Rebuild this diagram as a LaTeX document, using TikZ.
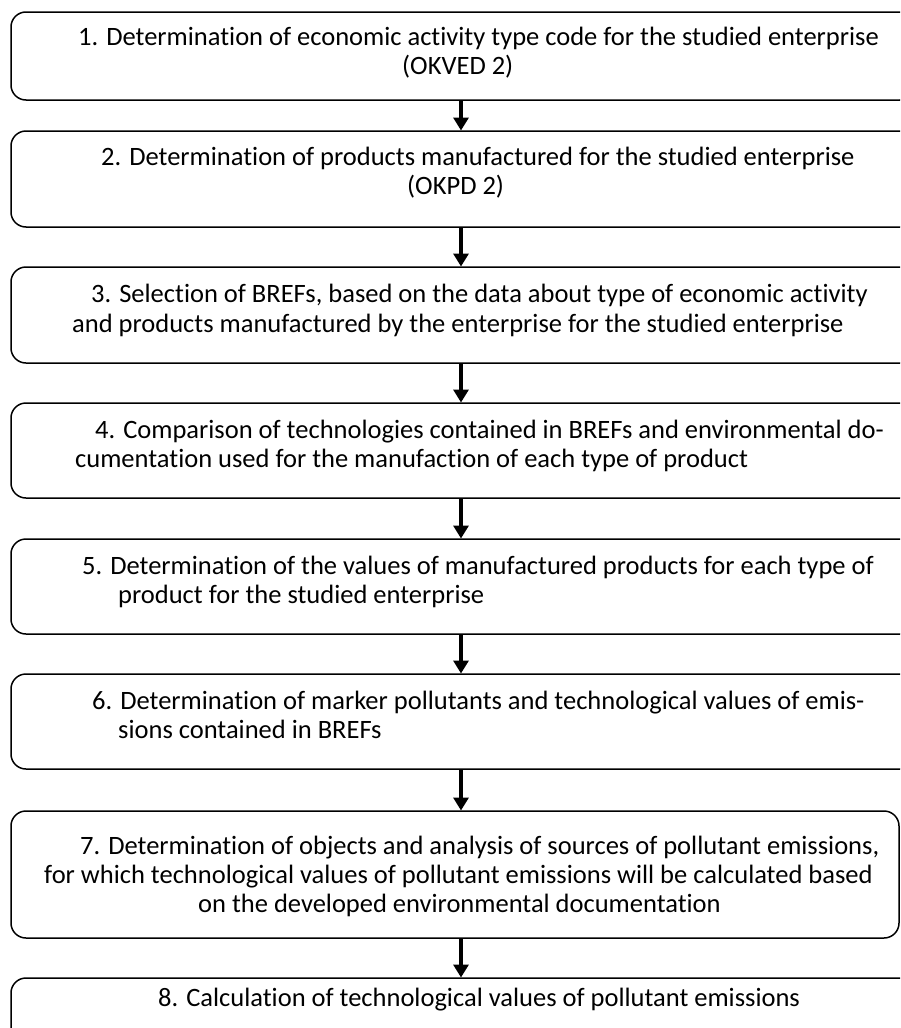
\documentclass[tikz,border=0pt]{standalone}
\usepackage{fontspec}
\setmainfont{Carlito}[Ligatures=NoCommon]
\usetikzlibrary{arrows.meta}
\begin{document}
\begin{tikzpicture}[x=1pt,y=-1pt,
  stepbox/.style={draw=black,line width=1.5pt,rounded corners=15pt,inner sep=0pt,outer sep=0pt},
  ln/.style={anchor=mid west,inner sep=0pt,font=\fontsize{26.5}{29}\selectfont},
  arr/.style={line width=3.6pt,-{Triangle[length=13pt,width=15pt]},shorten >=0.5pt}]
\useasboundingbox (0,0) rectangle (900,1028);
\clip (0,0) rectangle (900,1028);
\fill[white] (0,0) rectangle (900,1028);
% boxes
\node[stepbox,minimum width=904pt,minimum height=88pt] (b1) at (463,56) {};
\node[stepbox,minimum width=904pt,minimum height=96pt] (b2) at (463,179) {};
\node[stepbox,minimum width=904pt,minimum height=96pt] (b3) at (463,315) {};
\node[stepbox,minimum width=904pt,minimum height=95pt] (b4) at (463,450.5) {};
\node[stepbox,minimum width=904pt,minimum height=95pt] (b5) at (463,586.5) {};
\node[stepbox,minimum width=904pt,minimum height=95pt] (b6) at (463,721.5) {};
\node[stepbox,minimum width=888pt,minimum height=127pt] (b7) at (455,874.5) {};
\node[stepbox,minimum width=904pt,minimum height=82pt] (b8) at (463,1019) {};
% texts
\node[ln] (t1a) at (78,43) {1. Determination of economic activity type code for the studied enterprise};
\node[ln] (t1b) at (402,72) {(OKVED 2)};
\node[ln] (t2a) at (101,163) {2. Determination of products manufactured for the studied enterprise};
\node[ln] (t2b) at (407,192) {(OKPD 2)};
\node[ln] (t3a) at (91,300) {3. Selection of BREFs, based on the data about type of economic activity};
\node[ln] (t3b) at (72,330) {and products manufactured by the enterprise for the studied enterprise};
\node[ln] (t4a) at (95,436) {4. Comparison of technologies contained in BREFs and environmental do-};
\node[ln] (t4b) at (75,465) {cumentation used for the manufaction of each type of product};
\node[ln] (t5a) at (82,572) {5. Determination of the values of manufactured products for each type of};
\node[ln] (t5b) at (118,601) {product for the studied enterprise};
\node[ln] (t6a) at (92,707) {6. Determination of marker pollutants and technological values of emis-};
\node[ln] (t6b) at (118,736) {sions contained in BREFs};
\node[ln] (t7a) at (80,852) {7. Determination of objects and analysis of sources of pollutant emissions,};
\node[ln] (t7b) at (44,881) {for which technological values of pollutant emissions will be calculated based};
\node[ln] (t7c) at (198,910) {on the developed environmental documentation};
\node[ln] (t8a) at (158,1004) {8. Calculation of technological values of pollutant emissions};
% arrows
\coordinate (ax) at (461,0);
\draw[arr] (ax |- b1.south) -- (ax |- b2.north);
\draw[arr] (ax |- b2.south) -- (ax |- b3.north);
\draw[arr] (ax |- b3.south) -- (ax |- b4.north);
\draw[arr] (ax |- b4.south) -- (ax |- b5.north);
\draw[arr] (ax |- b5.south) -- (ax |- b6.north);
\draw[arr] (ax |- b6.south) -- (ax |- b7.north);
\draw[arr] (ax |- b7.south) -- (ax |- b8.north);
\end{tikzpicture}
\end{document}
